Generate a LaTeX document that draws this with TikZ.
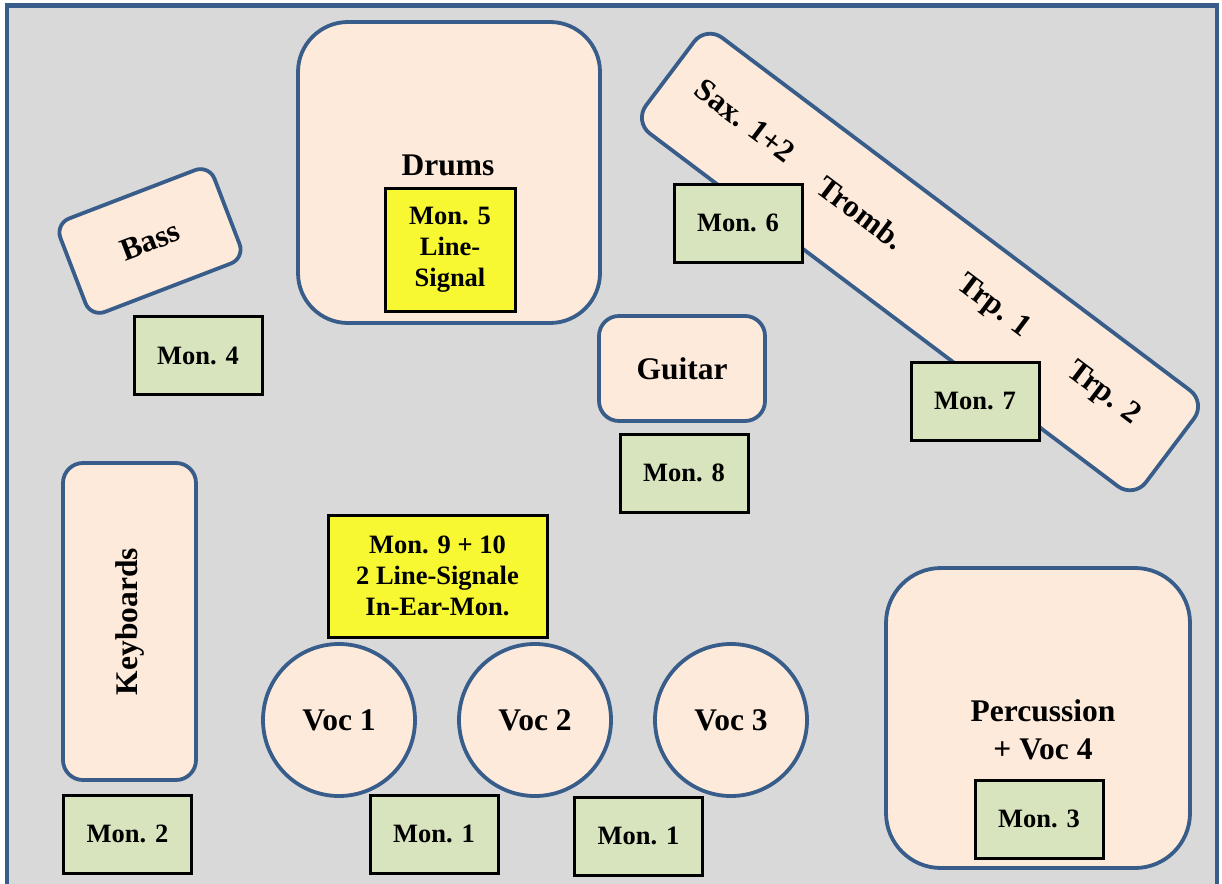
\documentclass[tikz,border=0pt]{standalone}
\usepackage{fontspec}
\setmainfont{Liberation Serif}
\definecolor{stagegray}{RGB}{217,217,217}
\definecolor{edgeblue}{RGB}{56,93,138}
\definecolor{peach}{RGB}{253,234,218}
\definecolor{mongreen}{RGB}{215,228,189}
\definecolor{lineyellow}{RGB}{247,247,50}
\newcommand{\smallfont}{\fontsize{26.5pt}{31pt}\selectfont\bfseries}
\newcommand{\bigfont}{\fontsize{31.5pt}{38pt}\selectfont\bfseries}
\tikzset{
    area/.style={draw=edgeblue, fill=peach, line width=3.8pt, rounded corners=#1, font=\bigfont},
    area/.default=20pt,
    mon/.style={draw=black, fill=mongreen, line width=3pt, minimum width=128pt, minimum height=78pt, font=\smallfont},
    linebox/.style={draw=black, fill=lineyellow, line width=3pt, align=center, font=\smallfont},
    voc/.style={draw=edgeblue, fill=peach, line width=3.8pt, circle, minimum size=152pt, font=\bigfont},
    hornlabel/.style={font=\bigfont, rotate=-37, inner sep=1pt}
}

\begin{document}
\begin{tikzpicture}[x=1pt, y=-1pt]
    \useasboundingbox (0, 0) rectangle (1222, 883);
    \clip (0, 0) rectangle (1222, 883);
    \draw[edgeblue, line width=4.5pt, fill=stagegray] (7, 5.5) rectangle (1217, 920);

    % instruments
    \node (bass) [area=15pt, rotate=21, minimum width=165pt, minimum height=100pt] at (150, 241) {Bass};
    \node (drums) [area=50pt, minimum width=302pt, minimum height=301pt] at (449, 172.5) {};
    \node (horns) [area, rotate=-37, minimum width=626pt, minimum height=120pt] at (920, 262) {};
    \node (guitar) [area, minimum width=166pt, minimum height=105pt] at (682, 368.5) {Guitar};
    \node (keys) [area, rotate=90, minimum width=317pt, minimum height=133pt] at (129.5, 621.5) {Keyboards};
    \node (perc) [area=55pt, minimum width=304pt, minimum height=300pt] at (1038, 718) {};
    \node (voc1) [voc] at (339, 720) {Voc 1};
    \node (voc2) [voc] at (535, 720) {Voc 2};
    \node (voc3) [voc] at (731, 720) {Voc 3};

    % labels
    \node (drumslabel) [font=\bigfont] at (448, 165) {Drums};
    \node (perclabel) [font=\bigfont, align=center] at (1043, 730) {Percussion\\+ Voc 4};
    \node (sax) [hornlabel] at (745, 121) {Sax. 1+2};
    \node (tromb) [hornlabel] at (861, 213) {Tromb.};
    \node (trp1) [hornlabel] at (993, 307) {Trp. 1};
    \node (trp2) [hornlabel] at (1103, 394) {Trp. 2};

    % monitors
    \node (mon5) [linebox, minimum width=130pt, minimum height=123pt] at (450, 249.5) {Mon. 5\\Line-\\Signal};
    \node (mon910) [linebox, minimum width=219pt, minimum height=122pt] at (437.5, 576) {Mon. 9 + 10\\2 Line-Signale\\In-Ear-Mon.};
    \node (mon4) [mon] at (198, 355.5) {Mon. 4};
    \node (mon6) [mon] at (738, 223) {Mon. 6};
    \node (mon7) [mon] at (975, 401) {Mon. 7};
    \node (mon8) [mon] at (684, 473) {Mon. 8};
    \node (mon2) [mon] at (127.5, 834) {Mon. 2};
    \node (mon1a) [mon] at (434, 834) {Mon. 1};
    \node (mon1b) [mon] at (638.5, 836) {Mon. 1};
    \node (mon3) [mon] at (1039, 819) {Mon. 3};
\end{tikzpicture}
\end{document}
